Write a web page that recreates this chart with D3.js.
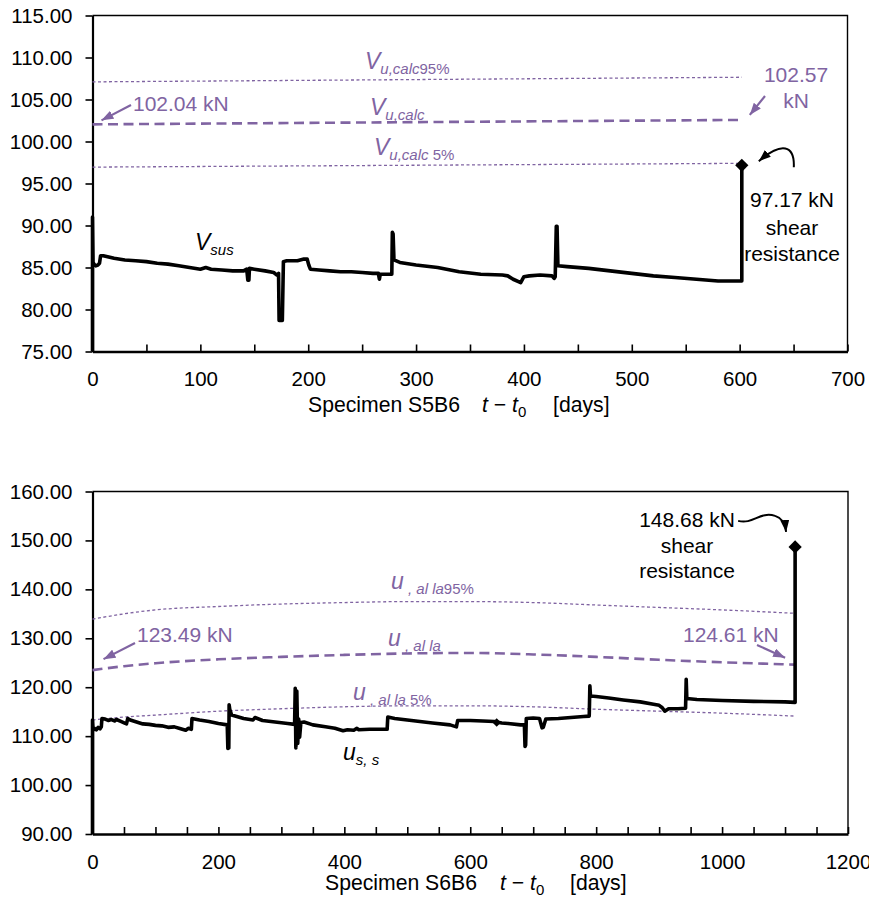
<!DOCTYPE html>
<html>
<head>
<meta charset="utf-8">
<script src="https://cdn.jsdelivr.net/npm/d3@7/dist/d3.min.js"></script>
<style>
  html, body { margin: 0; padding: 0; background: #ffffff; }
</style>
</head>
<body>
<svg id="chart" width="869" height="905"></svg>
<script>
// ---------- Specimen S5B6 ----------
const s5Days = [0, 0, 0.5, 1.5, 3, 5, 6.5, 7.5, 10, 20, 30, 40, 50, 60, 70, 80, 90, 100, 105, 110, 120, 130, 140,
  143, 144, 145, 145.5, 150, 160, 168, 171, 172.5, 173, 176, 177, 180, 190, 196, 199, 200.5, 202, 210, 220, 230,
  240, 250, 260, 265, 266, 266.8, 275, 277.5, 278, 278.7, 279.5, 285, 300, 320, 340, 360, 380, 385, 390, 397, 400,
  405, 415, 426, 428, 429, 430, 430.7, 431.5, 440, 460, 480, 500, 520, 540, 560, 580, 602, 602];
const s5Load = [75, 91, 85.6, 85.4, 85.2, 85.3, 85.5, 86.4, 86.4, 86.1, 85.9, 85.8, 85.7, 85.5, 85.4, 85.2, 85.0, 84.8,
  85.0, 84.8, 84.7, 84.6, 84.6, 84.8, 83.5, 83.5, 84.9, 84.8, 84.6, 84.4, 84.1, 84.3, 78.7, 78.7, 85.7, 85.8, 85.8,
  86.0, 86.0, 85.3, 84.8, 84.7, 84.6, 84.5, 84.5, 84.4, 84.3, 84.3, 83.6, 84.2, 84.2, 84.2, 89.2, 89.0, 85.9, 85.6,
  85.3, 85.0, 84.5, 84.2, 84.1, 84.0, 83.6, 83.2, 83.9, 84.0, 84.1, 84.0, 83.7, 83.9, 89.9, 89.9, 85.2, 85.1, 84.9,
  84.6, 84.3, 84.0, 83.8, 83.6, 83.4, 83.4, 97.17];
const s5FailDay = 602;
const s5FailLoad = 97.17;
const s5CalcDays = [0, 602];
const s5CalcMean = [102.04, 102.57];
const s5Calc95 = [107.1, 107.65];
const s5Calc5 = [96.95, 97.4];
const s5YTicks = [75, 80, 85, 90, 95, 100, 105, 110, 115];
const s5XLabels = [0, 100, 200, 300, 400, 500, 600, 700];

// ---------- Specimen S6B6 ----------
const s6Days = [0, 0, 1, 3, 6, 9, 12, 14, 15, 20, 25, 30, 35, 38, 45, 52, 54, 56, 60, 70, 80, 90, 100, 110, 120, 130,
  140, 148, 152, 157, 158, 170, 185, 200, 214, 215, 216.5, 217, 218, 221, 240, 255, 258, 262, 270, 290, 310, 321,
  322, 323, 324.5, 326, 327.5, 329, 331, 336, 350, 370, 385, 398, 405, 415, 420, 423, 440, 468, 469, 480, 500, 520,
  540, 568, 578, 580, 600, 620, 638, 650, 660, 680, 686, 687, 688, 689, 700, 710, 714, 716, 720, 740, 760, 780, 789,
  790, 791, 800, 820, 843, 870, 891, 900, 905, 909, 915, 930, 942, 943, 944, 960, 1000, 1050, 1100, 1116, 1116];
const s6Load = [90, 113.3, 111.2, 111.6, 111.3, 111.8, 111.5, 111.9, 113.6, 113.5, 113.2, 113.4, 113.1, 113.4, 113.0,
  112.6, 112.5, 113.6, 113.3, 112.9, 112.5, 112.4, 112.2, 112.1, 111.8, 111.9, 111.5, 111.2, 111.6, 111.4, 113.6,
  113.3, 113.0, 112.6, 112.3, 107.5, 107.6, 116.4, 115.5, 114.3, 113.6, 113.3, 113.8, 113.6, 113.2, 112.9, 112.6,
  112.4, 119.8, 107.6, 119.2, 108.5, 113.5, 109.8, 112.8, 112.9, 112.3, 111.9, 111.6, 111.1, 111.3, 111.2, 111.6,
  111.3, 111.4, 111.4, 113.9, 113.6, 113.3, 113.0, 112.7, 112.3, 111.9, 113.2, 113.2, 113.1, 113.0, 112.7, 112.6,
  112.3, 112.3, 107.9, 108.2, 113.6, 113.7, 113.6, 111.7, 111.8, 113.5, 113.6, 113.8, 114.0, 114.1, 120.3, 118.2,
  118.1, 117.8, 117.4, 117.0, 116.5, 116.3, 115.8, 115.1, 115.6, 115.6, 115.7, 121.6, 117.7, 117.5, 117.3, 117.1,
  117.0, 116.9, 148.68];
const s6FailDay = 1116;
const s6FailLoad = 148.68;
const s6MarkDay = 642;
const s6MarkLoad = 112.8;
const s6CalcDays = [0, 50, 100, 200, 300, 400, 500, 600, 700, 800, 900, 1000, 1116];
const s6CalcMean = [123.49, 124.3, 124.9, 125.7, 126.2, 126.6, 126.9, 127.0, 126.7, 126.2, 125.6, 125.1, 124.61];
const s6Calc95 = [133.9, 135.0, 135.8, 136.5, 137.0, 137.3, 137.5, 137.5, 137.3, 136.8, 136.3, 135.8, 135.1];
const s6Calc5 = [113.3, 113.9, 114.3, 115.1, 115.6, 116.0, 116.2, 116.2, 116.0, 115.5, 115.1, 114.7, 114.1];
const s6YTicks = [90, 100, 110, 120, 130, 140, 150, 160];
const s6XLabels = [0, 200, 400, 600, 800, 1000, 1200];

const PURPLE = "#8064a2";
const FONT = "'Liberation Sans', Arial, sans-serif";
const svg = d3.select("#chart");
svg.append("rect").attr("width", 869).attr("height", 905).attr("fill", "#ffffff");

const defs = svg.append("defs");
function arrowMarker(id, color, w, h) {
  defs.append("marker").attr("id", id)
    .attr("viewBox", `0 0 ${w} ${h}`).attr("refX", w).attr("refY", h / 2)
    .attr("markerUnits", "userSpaceOnUse")
    .attr("markerWidth", w).attr("markerHeight", h).attr("orient", "auto")
    .append("path").attr("d", `M0,0 L${w},${h / 2} L0,${h} Z`).attr("fill", color);
}
arrowMarker("headPurple", PURPLE, 12, 9);
arrowMarker("headBlack", "#000000", 12, 9);

function makePanel(opt) {
  const x = d3.scaleLinear().domain(opt.xDomain).range([92.5, opt.xRight]);
  const y = d3.scaleLinear().domain(opt.yDomain).range([opt.yBottom, opt.yTop]);
  const g = svg.append("g").attr("font-family", FONT);

  // frame: top and right edges
  g.append("path")
    .attr("d", `M${x.range()[0]},${opt.yTop} H${opt.xRight} V${opt.yBottom}`)
    .attr("fill", "none").attr("stroke", "#000").attr("stroke-width", 1.4);

  // y axis
  const yAxis = g.append("g").attr("transform", `translate(${x.range()[0]},0)`)
    .call(d3.axisLeft(y).tickValues(opt.yTicks).tickSize(7).tickSizeOuter(0).tickPadding(13)
      .tickFormat(d3.format(".2f")));
  yAxis.attr("font-family", FONT).attr("font-size", 20.5);
  yAxis.select(".domain").attr("stroke-width", 2.2);
  yAxis.selectAll(".tick line").attr("stroke-width", 1.6);
  yAxis.selectAll("text").attr("fill", "#000");

  // x axis with ticks pointing inward
  const minor = d3.range(opt.xDomain[0], opt.xDomain[1] + 1, opt.minorStep);
  const xAxis = g.append("g").attr("transform", `translate(0,${opt.yBottom})`)
    .call(d3.axisBottom(x).tickValues(minor).tickSize(-7).tickSizeOuter(0).tickPadding(20)
      .tickFormat(d => opt.xLabels.includes(d) ? d : ""));
  xAxis.attr("font-family", FONT).attr("font-size", 20.5);
  xAxis.select(".domain").attr("stroke-width", 2.6);
  xAxis.selectAll(".tick line").attr("stroke-width", 1.6);
  xAxis.selectAll("text").attr("fill", "#000");

  return { g, x, y };
}

function calcLine(p, days, vals, dashed, curve) {
  const line = d3.line().x((d, i) => p.x(days[i])).y(d => p.y(d)).curve(curve || d3.curveLinear);
  p.g.append("path").datum(vals).attr("d", line).attr("fill", "none").attr("stroke", PURPLE)
    .attr("stroke-width", dashed ? 2.6 : 1.3)
    .attr("stroke-dasharray", dashed ? "10,5.5" : "3,2.5");
}

function seriesLine(p, days, vals) {
  const line = d3.line().x((d, i) => p.x(days[i])).y(d => p.y(d));
  p.g.append("path").datum(vals).attr("d", line).attr("fill", "none").attr("stroke", "#000")
    .attr("stroke-width", 3.6).attr("stroke-linejoin", "round").attr("stroke-linecap", "butt");
}

function diamond(p, day, val, size) {
  p.g.append("path").attr("d", d3.symbol(d3.symbolSquare, size)())
    .attr("transform", `translate(${p.x(day)},${p.y(val)}) rotate(45)`).attr("fill", "#000");
}

// symbol label with subscript: main letter, subscript, trailing text
function symLabel(p, px, py, main, sub, tail, color) {
  const t = p.g.append("text").attr("x", px).attr("y", py).attr("fill", color);
  t.append("tspan").attr("font-style", "italic").attr("font-size", 23).text(main);
  t.append("tspan").attr("font-style", "italic").attr("font-size", 15).attr("dy", 5).text(sub);
  if (tail) t.append("tspan").attr("font-size", 15).text(tail);
}

function plainText(p, px, py, str, color, anchor) {
  p.g.append("text").attr("x", px).attr("y", py).attr("fill", color).attr("font-size", 21)
    .attr("text-anchor", anchor || "start").text(str);
}

function straightArrow(p, x1, y1, x2, y2, color, marker) {
  p.g.append("line").attr("x1", x1).attr("y1", y1).attr("x2", x2).attr("y2", y2)
    .attr("stroke", color).attr("stroke-width", 2.2).attr("marker-end", `url(#${marker})`);
}

function xTitle(p, startX, baseY, spec, tX, daysX) {
  p.g.append("text").attr("x", startX).attr("y", baseY).attr("font-size", 21.2).text(spec);
  const t = p.g.append("text").attr("x", tX).attr("y", baseY).attr("font-size", 21.2);
  t.append("tspan").attr("font-style", "italic").text("t");
  t.append("tspan").text(" \u2212 ");
  t.append("tspan").attr("font-style", "italic").text("t");
  t.append("tspan").attr("font-size", 15).attr("dy", 5).text("0");
  p.g.append("text").attr("x", daysX).attr("y", baseY).attr("font-size", 21.2).text("[days]");
}

// ===== Panel 1: S5B6 =====
const p1 = makePanel({
  xDomain: [0, 700], xRight: 847.5, yDomain: [75, 115], yTop: 15.5, yBottom: 351.5,
  yTicks: s5YTicks, xLabels: s5XLabels, minorStep: 50
});
calcLine(p1, s5CalcDays, s5Calc95, false);
calcLine(p1, s5CalcDays, s5Calc5, false);
calcLine(p1, s5CalcDays, s5CalcMean, true);
seriesLine(p1, s5Days, s5Load);
diamond(p1, s5FailDay, s5FailLoad, 88);

symLabel(p1, 365, 69, "V", "u,calc", "95%", PURPLE);
symLabel(p1, 370, 115, "V", "u,calc", "", PURPLE);
symLabel(p1, 374, 155, "V", "u,calc", " 5%", PURPLE);
symLabel(p1, 195, 250, "V", "sus", "", "#000");

plainText(p1, 133, 111, "102.04 kN", PURPLE);
straightArrow(p1, 131, 105, p1.x(s5CalcDays[0]) + 9, p1.y(s5CalcMean[0]) - 4, PURPLE, "headPurple");
plainText(p1, 796, 82, "102.57", PURPLE, "middle");
plainText(p1, 796, 108, "kN", PURPLE, "middle");
straightArrow(p1, 765, 96, p1.x(s5CalcDays[1]) + 8, p1.y(s5CalcMean[1]) - 5, PURPLE, "headPurple");

plainText(p1, 792, 207, "97.17 kN", "#000", "middle");
plainText(p1, 792, 235, "shear", "#000", "middle");
plainText(p1, 792, 261, "resistance", "#000", "middle");
{
  const dx = p1.x(s5FailDay), dy = p1.y(s5FailLoad);
  p1.g.append("path")
    .attr("d", `M${dx + 52},${dy + 2} C${dx + 53},${dy - 20} ${dx + 40},${dy - 24} ${dx + 17},${dy - 4}`)
    .attr("fill", "none").attr("stroke", "#000").attr("stroke-width", 2)
    .attr("marker-end", "url(#headBlack)");
}
xTitle(p1, 308, 412, "Specimen S5B6", 482, 553);

// ===== Panel 2: S6B6 =====
const p2 = makePanel({
  xDomain: [0, 1200], xRight: 848, yDomain: [90, 160], yTop: 491.5, yBottom: 834,
  yTicks: s6YTicks, xLabels: s6XLabels, minorStep: 50
});
calcLine(p2, s6CalcDays, s6Calc95, false, d3.curveMonotoneX);
calcLine(p2, s6CalcDays, s6Calc5, false, d3.curveMonotoneX);
calcLine(p2, s6CalcDays, s6CalcMean, true, d3.curveMonotoneX);
seriesLine(p2, s6Days, s6Load);
diamond(p2, s6FailDay, s6FailLoad, 88);
diamond(p2, s6MarkDay, s6MarkLoad, 36);

symLabel(p2, 391, 589, "u", " , al la", "95%", PURPLE);
symLabel(p2, 388, 646, "u", " , al la", "", PURPLE);
symLabel(p2, 353, 700, "u", " , al la", " 5%", PURPLE);
symLabel(p2, 343, 760, "u", "s, s", "", "#000");

plainText(p2, 137, 642, "123.49 kN", PURPLE);
straightArrow(p2, 135, 643, p2.x(s6CalcDays[0]) + 11, p2.y(s6CalcMean[0]) - 11, PURPLE, "headPurple");
plainText(p2, 683, 642, "124.61 kN", PURPLE);
straightArrow(p2, 757, 645, p2.x(s6CalcDays[s6CalcDays.length - 1]) - 10, p2.y(s6CalcMean[s6CalcMean.length - 1]) - 7, PURPLE, "headPurple");

plainText(p2, 687, 527, "148.68 kN", "#000", "middle");
plainText(p2, 687, 553, "shear", "#000", "middle");
plainText(p2, 687, 578, "resistance", "#000", "middle");
{
  const dx = p2.x(s6FailDay), dy = p2.y(s6FailLoad);
  p2.g.append("path")
    .attr("d", `M${dx - 57},${dy - 26} C${dx - 42},${dy - 22} ${dx - 35},${dy - 36} ${dx - 20},${dy - 31} C${dx - 13},${dy - 29} ${dx - 10},${dy - 24} ${dx - 9},${dy - 15}`)
    .attr("fill", "none").attr("stroke", "#000").attr("stroke-width", 2)
    .attr("marker-end", "url(#headBlack)");
}
xTitle(p2, 325, 890, "Specimen S6B6", 500, 570);
</script>
</body>
</html>
